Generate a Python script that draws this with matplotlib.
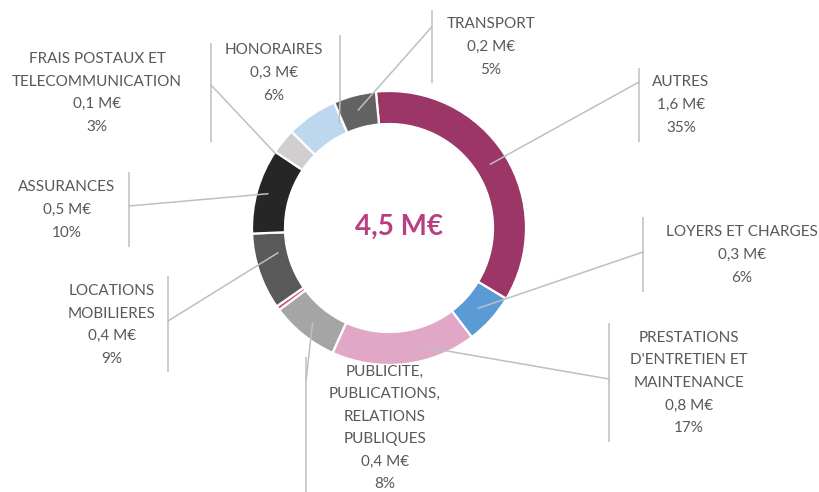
import matplotlib
matplotlib.use("Agg")
import matplotlib.pyplot as plt
import numpy as np

plt.rcParams['font.family'] = ['Lato', 'DejaVu Sans']

# ---- data (clockwise from the top) ----
categories = ["AUTRES", "LOYERS ET CHARGES", "PRESTATIONS\nD'ENTRETIEN ET\nMAINTENANCE",
              "PUBLICITE,\nPUBLICATIONS,\nRELATIONS\nPUBLIQUES", "",
              "LOCATIONS\nMOBILIERES", "ASSURANCES",
              "FRAIS POSTAUX ET\nTELECOMMUNICATION", "HONORAIRES", "TRANSPORT"]
amounts = ["1,6 M€", "0,3 M€", "0,8 M€", "0,4 M€", "", "0,4 M€", "0,5 M€", "0,1 M€", "0,3 M€", "0,2 M€"]
pct_labels = ["35%", "6%", "17%", "8%", "", "9%", "10%", "3%", "6%", "5%"]
shares = [35, 6, 17, 8, 0.5, 9, 10, 3, 6, 5]
total_label = "4,5 M€"

colors = ["#9B3667", "#5B9BD5", "#E1A7C6", "#A5A5A5", "#C8508C",
          "#595959", "#262626", "#D0CECE", "#BDD7EE", "#636363"]

# ---- layout (pixel coordinates, y from top) ----
W, H = 819, 492
CX, CY = 389, 228
R_OUT, R_IN = 137, 104

# per label: text centre (x, y), bar x, bar y0, bar y1, joining y, anchor angle offset, anchor radius
layout = {
    0: ((681, 105), 639, 68, 142, 82, 0, 120),
    1: ((742, 255), 643, 217, 292, 252, 0, 120),
    2: ((689, 383), 609, 323, 442, 379, 8, 122),
    3: ((385, 428), 306, 357, 492, 381, 0, 122),
    5: ((112, 325), 168, 276, 372, 321, -6, 114),
    6: ((67, 210), 129, 172, 247, 206, 0, 126),
    7: ((97, 93), 211, 43, 142, 85, 6, 136),
    8: ((274, 73), 340, 35, 100, 100, -9, 116),
    9: ((491, 47), 431.7, 10, 83, 27, 0, 122),
}

fig = plt.figure(figsize=(W / 100, H / 100), dpi=100)
ax = fig.add_axes([0, 0, 1, 1])


def py(y):
    return H - y


wedges, _ = ax.pie(shares, colors=colors, startangle=95.5, counterclock=False,
                   center=(CX, py(CY)), radius=R_OUT,
                   wedgeprops=dict(width=R_OUT - R_IN, edgecolor='white', linewidth=1.6))

ax.set_xlim(0, W)
ax.set_ylim(0, H)
ax.set_aspect('equal')
ax.axis('off')

line_c = '#BFBFBF'
text_c = '#595959'

for i, w in enumerate(wedges):
    if i not in layout:
        continue
    (tx, ty), bx, by0, by1, jy, aoff, ar = layout[i]
    mid = np.deg2rad((w.theta1 + w.theta2) / 2 + aoff)
    axp = CX + ar * np.cos(mid)
    ayp = py(CY) + ar * np.sin(mid)
    ax.plot([bx, bx], [py(by0), py(by1)], color=line_c, lw=1.1, solid_capstyle='butt')
    ax.plot([axp, bx], [ayp, py(jy)], color=line_c, lw=1.1)
    txt = f"{categories[i]}\n{amounts[i]}\n{pct_labels[i]}"
    ax.text(tx, py(ty), txt, ha='center', va='center', multialignment='center',
            fontsize=11, color=text_c, linespacing=1.78)

ax.text(399, py(227), total_label, ha='center', va='center', fontsize=20,
        fontweight='bold', color='#B93F82')

fig.savefig("out.png", dpi=100)
